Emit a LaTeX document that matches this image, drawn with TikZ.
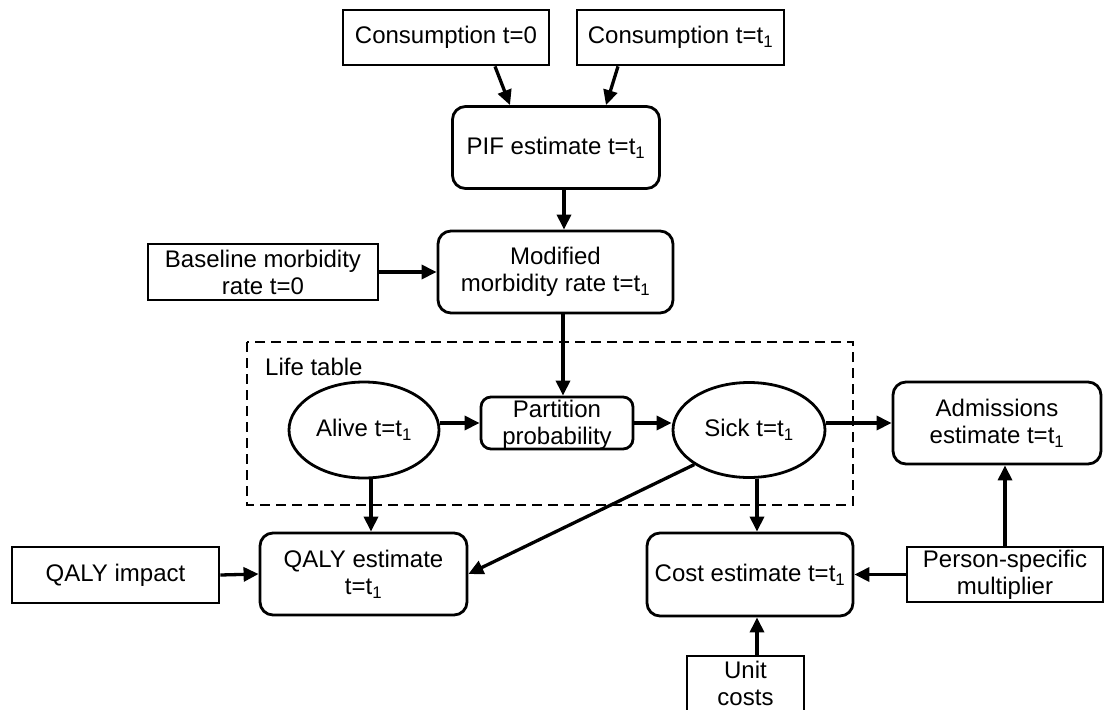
\documentclass[tikz,border=0pt]{standalone}
\usepackage{fontspec}
\setmainfont{Liberation Sans}
\usetikzlibrary{shapes.geometric,arrows.meta,calc}
\tikzset{
  every node/.style={font=\fontsize{24}{27}\selectfont, align=center, inner sep=0pt},
  sqbox/.style={draw, line width=2.8pt, rectangle},
  rbox/.style={draw, line width=2.8pt, rectangle, rounded corners=13pt},
  ebox/.style={draw, line width=2.8pt, ellipse},
  arr/.style={line width=3.3pt, -{Triangle[length=15pt,width=14pt]}},
  lt/.style={draw, line width=2.9pt, dash pattern=on 10pt off 6pt}
}
\newcommand{\tone}{t=t\textsubscript{1}}
\begin{document}
\begin{tikzpicture}[x=1pt,y=-1pt]
\useasboundingbox (0,0) rectangle (1104,710);
% dashed life table frame
\draw[lt] (247,342) rectangle (853,505);
\node[anchor=west] (lifelabel) at (265,367) {Life table};
% nodes
\node[sqbox, minimum width=206pt, minimum height=55pt] (c0) at (446,37.5) {Consumption t=0};
\node[sqbox, minimum width=207pt, minimum height=55pt] (c1) at (680.5,37.5) {Consumption \tone};
\node[rbox, minimum width=207pt, minimum height=82pt] (pif) at (556,147.5) {PIF estimate \tone};
\node[rbox, minimum width=235pt, minimum height=82pt] (mod) at (555.5,272) {Modified\\morbidity rate \tone};
\node[sqbox, minimum width=230pt, minimum height=56pt] (base) at (263,272) {Baseline morbidity\\rate t=0};
\node[ebox, minimum width=150pt, minimum height=96pt] (alive) at (364,430) {Alive \tone};
\node[rbox, minimum width=152pt, minimum height=52pt, rounded corners=10pt] (part) at (557,423) {};
\node (partT) at (557,425) {Partition\\probability};
\node[ebox, minimum width=152pt, minimum height=95pt] (sick) at (749,430) {Sick \tone};
\node[rbox, minimum width=208pt, minimum height=82pt] (adm) at (997,423) {Admissions\\estimate \tone};
\node[rbox, minimum width=206pt, minimum height=83pt] (cost) at (750,574.5) {Cost estimate \tone};
\node[sqbox, minimum width=196pt, minimum height=55pt] (person) at (1005,574.5) {Person-specific\\multiplier};
\node[sqbox, minimum width=117pt, minimum height=60pt] (unit) at (745.5,686) {};
\node (unitT) at (745.5,683) {Unit\\costs};
\node[sqbox, minimum width=207pt, minimum height=56pt] (qimp) at (115.5,575) {QALY impact};
\node[rbox, minimum width=207pt, minimum height=82pt] (qest) at (363.5,574) {QALY estimate\\\tone};
% connectors
\draw[arr] ([xshift=49pt]c0.south) -- ([xshift=-46pt]pif.north);
\draw[arr] ([xshift=-62.5pt]c1.south) -- ([xshift=50pt]pif.north);
\draw[arr] ([xshift=8pt]pif.south) -- ([xshift=8.5pt]mod.north);
\draw[arr] (base.east) -- (mod.west);
\draw[arr] ([xshift=7.5pt]mod.south) -- ([xshift=6pt]part.north);
\draw[arr] (alive.east |- part.west) -- (part.west);
\draw[arr] (part.east) -- (part.east -| sick.west);
\draw[arr] (sick.east |- adm.west) -- (adm.west);
\draw[arr] ([xshift=7pt]alive.south) -- ([xshift=7.5pt]qest.north);
\draw[arr] (sick.south west) -- (qest.east);
\draw[arr] ([xshift=8pt]sick.south) -- ([xshift=7pt]cost.north);
\draw[arr] (person.west) -- (cost.east);
\draw[arr] (person.north) -- (person.north |- adm.south);
\draw[arr] ([xshift=11.5pt]unit.north) -- ([xshift=7pt]cost.south);
\draw[arr] (qimp.east) -- (qest.west);
\end{tikzpicture}
\end{document}
